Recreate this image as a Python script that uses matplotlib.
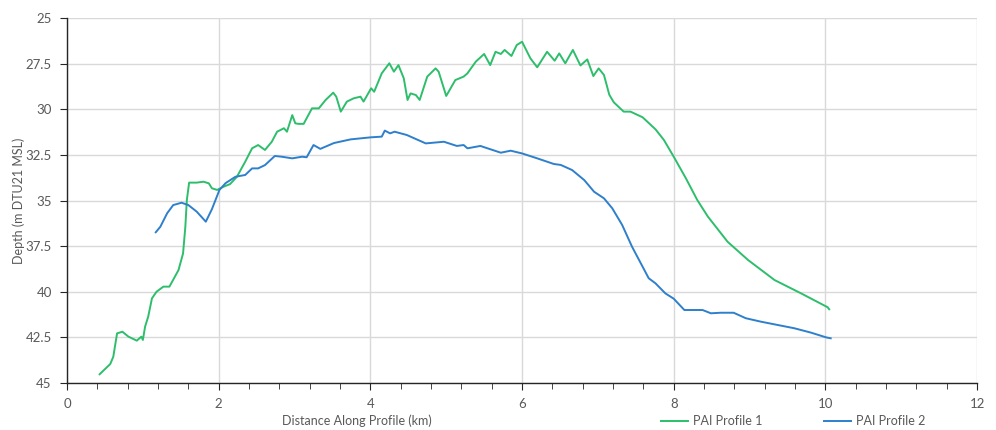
import matplotlib
matplotlib.use('Agg')
import matplotlib.pyplot as plt
from matplotlib.ticker import MultipleLocator, FuncFormatter
from matplotlib.lines import Line2D

plt.rcParams['font.family'] = ['Lato', 'DejaVu Sans']

# PAI Profile 1 (green)
p1_dist = [0.43, 0.57, 0.61, 0.66, 0.73, 0.81, 0.92, 0.98, 1.0, 1.03, 1.07, 1.12, 1.18, 1.27, 1.35,
           1.47, 1.53, 1.56, 1.58, 1.61, 1.71, 1.8, 1.87, 1.91, 1.98, 2.06, 2.15, 2.24, 2.35, 2.44,
           2.52, 2.61, 2.7, 2.77, 2.86, 2.9, 2.97, 3.01, 3.05, 3.12, 3.23, 3.32, 3.41, 3.51, 3.55,
           3.61, 3.69, 3.78, 3.87, 3.91, 4.01, 4.05, 4.15, 4.25, 4.31, 4.37, 4.44, 4.49, 4.53, 4.6,
           4.65, 4.75, 4.86, 4.9, 5.0, 5.12, 5.23, 5.28, 5.39, 5.5, 5.58, 5.65, 5.72, 5.77, 5.86,
           5.93, 6.0, 6.11, 6.2, 6.33, 6.43, 6.49, 6.57, 6.67, 6.77, 6.86, 6.94, 7.01, 7.08, 7.15,
           7.21, 7.34, 7.43, 7.59, 7.76, 7.87, 8.0, 8.16, 8.31, 8.45, 8.71, 8.98, 9.33, 9.68, 10.03,
           10.05]
p1_depth = [44.52, 43.96, 43.56, 42.28, 42.19, 42.46, 42.68, 42.46, 42.64, 41.9, 41.37, 40.36, 40.0,
            39.72, 39.72, 38.81, 37.9, 36.44, 34.97, 34.02, 34.02, 33.97, 34.06, 34.33, 34.42, 34.25,
            34.1, 33.7, 32.87, 32.14, 31.96, 32.23, 31.78, 31.23, 31.04, 31.23, 30.32, 30.77, 30.8,
            30.8, 29.95, 29.95, 29.49, 29.09, 29.31, 30.13, 29.58, 29.4, 29.31, 29.58, 28.85, 29.04,
            28.03, 27.48, 27.94, 27.58, 28.3, 29.49, 29.13, 29.22, 29.49, 28.21, 27.76, 27.94, 29.27,
            28.4, 28.21, 28.03, 27.39, 26.97, 27.58, 26.85, 26.97, 26.75, 27.08, 26.48, 26.3, 27.21,
            27.7, 26.85, 27.34, 26.94, 27.48, 26.75, 27.6, 27.27, 28.18, 27.76, 28.12, 29.2, 29.62,
            30.13, 30.13, 30.44, 31.1, 31.68, 32.6, 33.78, 34.97, 35.88, 37.26, 38.26, 39.36, 40.09,
            40.85, 40.96]

# PAI Profile 2 (blue)
p2_dist = [1.17, 1.23, 1.32, 1.4, 1.51, 1.6, 1.71, 1.83, 1.91, 2.01, 2.09, 2.22, 2.35, 2.44, 2.52,
           2.61, 2.74, 2.83, 2.97, 3.1, 3.16, 3.25, 3.34, 3.52, 3.74, 4.0, 4.15, 4.19, 4.26, 4.32,
           4.48, 4.73, 4.97, 5.14, 5.23, 5.28, 5.45, 5.72, 5.85, 6.0, 6.2, 6.42, 6.51, 6.66, 6.82,
           6.95, 7.08, 7.19, 7.32, 7.45, 7.59, 7.67, 7.76, 7.89, 8.0, 8.14, 8.27, 8.38, 8.49, 8.62,
           8.79, 8.95, 9.15, 9.37, 9.59, 9.81, 10.01, 10.07]
p2_depth = [36.74, 36.44, 35.7, 35.25, 35.12, 35.25, 35.61, 36.16, 35.48, 34.42, 34.05, 33.7, 33.6,
            33.24, 33.24, 33.06, 32.56, 32.6, 32.69, 32.6, 32.63, 31.96, 32.17, 31.85, 31.65, 31.54,
            31.5, 31.17, 31.32, 31.23, 31.41, 31.87, 31.78, 32.01, 31.96, 32.14, 32.01, 32.38, 32.27,
            32.42, 32.69, 33.0, 33.05, 33.33, 33.88, 34.52, 34.88, 35.43, 36.34, 37.53, 38.63, 39.26,
            39.54, 40.09, 40.38, 41.0, 41.0, 41.0, 41.18, 41.15, 41.15, 41.45, 41.64, 41.82, 42.0,
            42.24, 42.5, 42.55]

green = '#2DBE6C'
blue = '#2E7FCC'
grey = '#595959'

fig = plt.figure(figsize=(9.96, 4.30), dpi=100)
ax = fig.add_axes([0.0673, 0.1093, 0.9137, 0.8488])

ax.plot(p1_dist, p1_depth, color=green, lw=1.4)
ax.plot(p2_dist, p2_depth, color=blue, lw=1.4)

ax.set_xlim(0, 12)
ax.set_ylim(45, 25)
ax.xaxis.set_major_locator(MultipleLocator(2))
ax.xaxis.set_minor_locator(MultipleLocator(0.4))
ax.yaxis.set_major_locator(MultipleLocator(2.5))
ax.yaxis.set_major_formatter(FuncFormatter(lambda v, p: f'{v:g}'))

ax.grid(True, which='major', color='#D9D9D9', lw=1.0)
ax.set_axisbelow(True)
for s in ['top', 'right']:
    ax.spines[s].set_visible(False)
for s in ['left', 'bottom']:
    ax.spines[s].set_color('#262626')
    ax.spines[s].set_linewidth(1.0)

ax.tick_params(axis='both', which='major', direction='out', length=5, color='#262626',
               labelsize=9.5, labelcolor=grey, pad=6)
ax.tick_params(axis='x', which='minor', direction='out', length=4, color='#262626')
ax.tick_params(axis='y', which='minor', length=0)

ax.set_ylabel('Depth (m DTU21 MSL)', fontsize=9, color=grey)
ax.yaxis.set_label_coords(-0.046, 0.5)
fig.text(357 / 996, 1 - 421 / 430, 'Distance Along Profile (km)', fontsize=9, color=grey,
         ha='center', va='center')

handles = [Line2D([], [], color=green, lw=1.4), Line2D([], [], color=blue, lw=1.4)]
fig.legend(handles, ['PAI Profile 1', 'PAI Profile 2'], loc='center', ncol=2,
           bbox_to_anchor=(793 / 996, 1 - 421 / 430), frameon=False, fontsize=9,
           labelcolor=grey, handlelength=2.2, handletextpad=0.4, columnspacing=4.9)

fig.savefig('out.png', dpi=100)
